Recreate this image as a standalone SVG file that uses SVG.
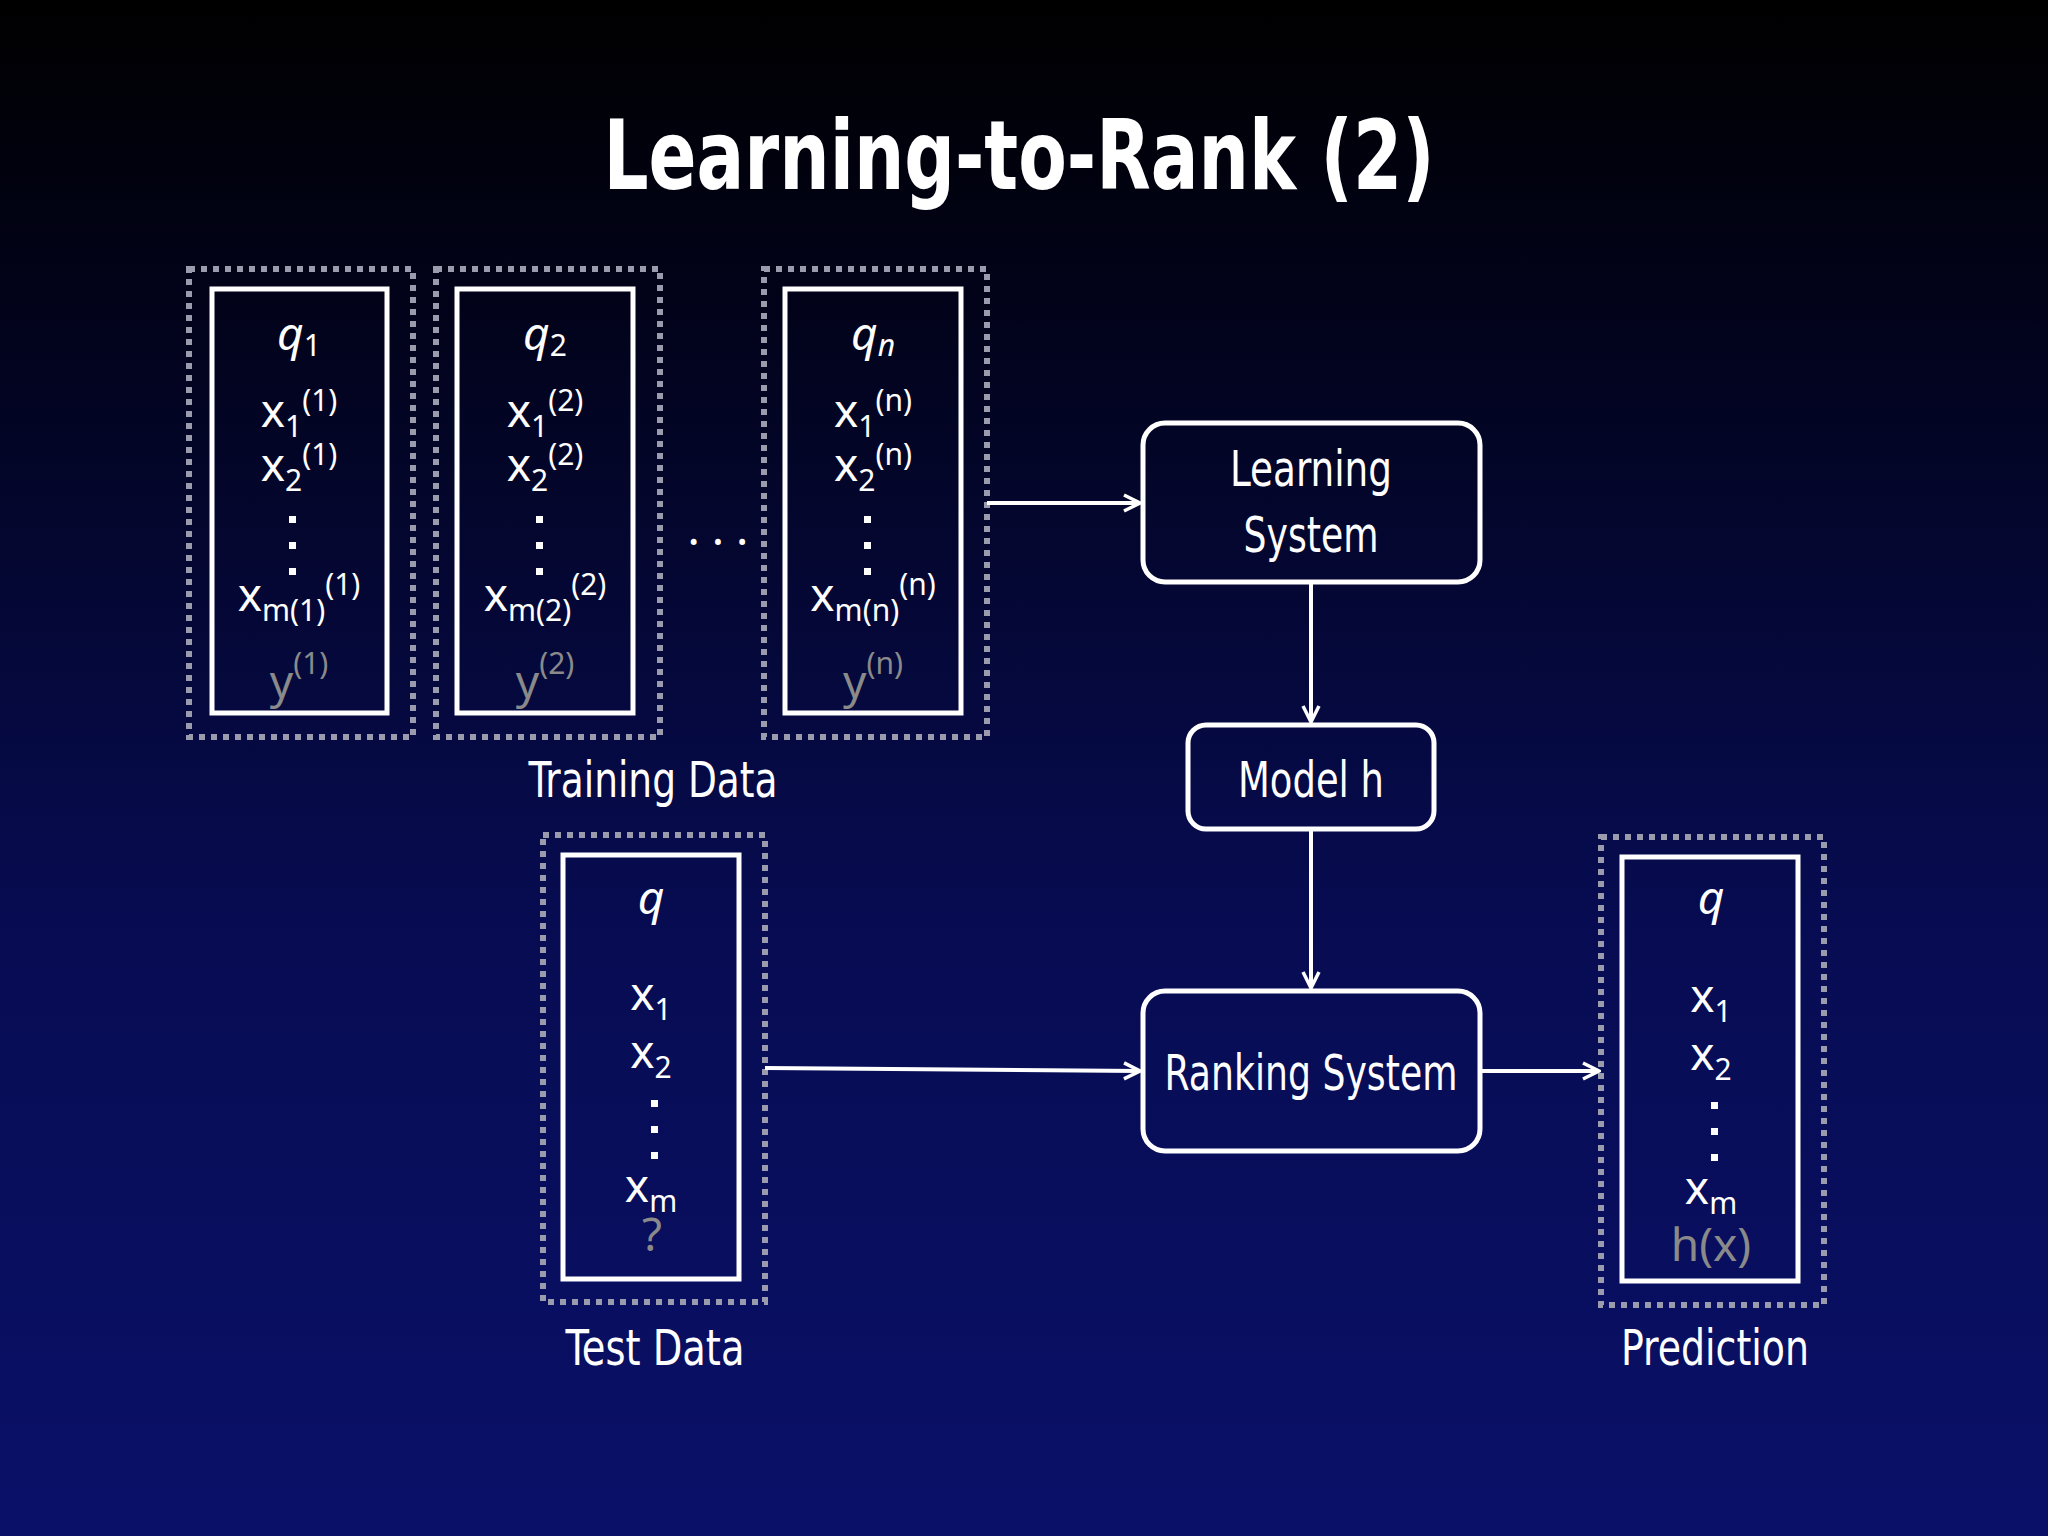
<svg xmlns="http://www.w3.org/2000/svg" width="2048" height="1536" viewBox="0 0 2048 1536">
<defs>
<linearGradient id="bg" x1="0" y1="0" x2="0" y2="1">
<stop offset="0" stop-color="#000000"/><stop offset="0.2" stop-color="#02031a"/><stop offset="0.6" stop-color="#070c52"/><stop offset="1" stop-color="#0a1068"/>
</linearGradient>
<marker id="ar" viewBox="0 0 20 20" refX="18" refY="10" markerWidth="20" markerHeight="20" markerUnits="userSpaceOnUse" orient="auto">
<path d="M2,2 L18,10 L2,18" fill="none" stroke="#fff" stroke-width="3.5"/>
</marker>
<style>
.dot{fill:none;stroke:#9a9cae;stroke-width:6;stroke-dasharray:6 6}
.in{fill:none;stroke:#fff;stroke-width:5}
.rb{fill:none;stroke:#fff;stroke-width:5}
.t{font-family:"Noto Sans","DejaVu Sans",sans-serif;fill:#fff;font-size:46px;text-anchor:middle}
.g{fill:#8a8a8a}
.lb{font-family:"DejaVu Sans Condensed","DejaVu Sans",sans-serif;fill:#fff;font-size:50px;text-anchor:middle}
.c{fill:none;stroke:#fff;stroke-width:4}
.s{font-size:30px}
.d{fill:#fff}
</style>
</defs>
<rect width="2048" height="1536" fill="url(#bg)"/>
<text x="1019" y="189" text-anchor="middle" font-family="DejaVu Sans Condensed,DejaVu Sans,sans-serif" font-weight="bold" font-size="96" fill="#fff" textLength="831" lengthAdjust="spacingAndGlyphs">Learning-to-Rank (2)</text>

<g id="q1">
<rect class="dot" x="189" y="269" width="224" height="468"/>
<rect class="in" x="212" y="289" width="175" height="424"/>
<text class="t" x="299" y="350"><tspan font-style="italic">q</tspan><tspan class="s" dy="6">1</tspan></text>
<text class="t" x="299" y="427">x<tspan class="s" dy="10">1</tspan><tspan class="s" dy="-26">(1)</tspan></text>
<text class="t" x="299" y="481">x<tspan class="s" dy="10">2</tspan><tspan class="s" dy="-26">(1)</tspan></text>
<rect class="d" x="289" y="516" width="7" height="7"/><rect class="d" x="289" y="542" width="7" height="7"/><rect class="d" x="289" y="568" width="7" height="7"/>
<text class="t" x="299" y="611">x<tspan class="s" dy="10">m(1)</tspan><tspan class="s" dy="-26">(1)</tspan></text>
<text class="t g" x="299" y="698">y<tspan class="s" dy="-24">(1)</tspan></text>
</g>
<g id="q2">
<rect class="dot" x="436" y="269" width="224" height="468"/>
<rect class="in" x="457" y="289" width="176" height="424"/>
<text class="t" x="545" y="350"><tspan font-style="italic">q</tspan><tspan class="s" dy="6">2</tspan></text>
<text class="t" x="545" y="427">x<tspan class="s" dy="10">1</tspan><tspan class="s" dy="-26">(2)</tspan></text>
<text class="t" x="545" y="481">x<tspan class="s" dy="10">2</tspan><tspan class="s" dy="-26">(2)</tspan></text>
<rect class="d" x="536" y="516" width="7" height="7"/><rect class="d" x="536" y="542" width="7" height="7"/><rect class="d" x="536" y="568" width="7" height="7"/>
<text class="t" x="545" y="611">x<tspan class="s" dy="10">m(2)</tspan><tspan class="s" dy="-26">(2)</tspan></text>
<text class="t g" x="545" y="698">y<tspan class="s" dy="-24">(2)</tspan></text>
</g>
<text class="t" x="718" y="545" font-size="40">. . .</text>
<g id="qn">
<rect class="dot" x="764" y="269" width="223" height="468"/>
<rect class="in" x="785" y="289" width="176" height="424"/>
<text class="t" x="873" y="350"><tspan font-style="italic">q</tspan><tspan class="s" dy="6" font-style="italic">n</tspan></text>
<text class="t" x="873" y="427">x<tspan class="s" dy="10">1</tspan><tspan class="s" dy="-26">(n)</tspan></text>
<text class="t" x="873" y="481">x<tspan class="s" dy="10">2</tspan><tspan class="s" dy="-26">(n)</tspan></text>
<rect class="d" x="864" y="516" width="7" height="7"/><rect class="d" x="864" y="542" width="7" height="7"/><rect class="d" x="864" y="568" width="7" height="7"/>
<text class="t" x="873" y="611">x<tspan class="s" dy="10">m(n)</tspan><tspan class="s" dy="-26">(n)</tspan></text>
<text class="t g" x="873" y="698">y<tspan class="s" dy="-24">(n)</tspan></text>
</g>
<text class="lb" x="653" y="797" textLength="249" lengthAdjust="spacingAndGlyphs">Training Data</text>

<g id="learning">
<rect class="rb" x="1143" y="423" width="337" height="159" rx="22"/>
<text class="lb" x="1311" y="486" textLength="162" lengthAdjust="spacingAndGlyphs">Learning</text>
<text class="lb" x="1311" y="552" textLength="135" lengthAdjust="spacingAndGlyphs">System</text>
</g>
<g id="model">
<rect class="rb" x="1188" y="725" width="246" height="104" rx="18"/>
<text class="lb" x="1311" y="797" textLength="146" lengthAdjust="spacingAndGlyphs">Model h</text>
</g>
<g id="ranking">
<rect class="rb" x="1143" y="991" width="337" height="160" rx="22"/>
<text class="lb" x="1311" y="1090" textLength="293" lengthAdjust="spacingAndGlyphs">Ranking System</text>
</g>

<g id="test">
<rect class="dot" x="543" y="835" width="222" height="467"/>
<rect class="in" x="563" y="855" width="176" height="424"/>
<text class="t" x="651" y="914" font-style="italic">q</text>
<text class="t" x="651" y="1010">x<tspan class="s" dy="10">1</tspan></text>
<text class="t" x="651" y="1068">x<tspan class="s" dy="10">2</tspan></text>
<rect class="d" x="651" y="1100" width="7" height="7"/><rect class="d" x="651" y="1126" width="7" height="7"/><rect class="d" x="651" y="1152" width="7" height="7"/>
<text class="t" x="651" y="1202">x<tspan class="s" dy="10">m</tspan></text>
<text class="t g" x="652" y="1251" font-size="18">?</text>
</g>
<text class="lb" x="655" y="1365" textLength="179" lengthAdjust="spacingAndGlyphs">Test Data</text>

<g id="prediction">
<rect class="dot" x="1601" y="837" width="223" height="468"/>
<rect class="in" x="1622" y="857" width="176" height="424"/>
<text class="t" x="1711" y="914" font-style="italic">q</text>
<text class="t" x="1711" y="1012">x<tspan class="s" dy="10">1</tspan></text>
<text class="t" x="1711" y="1070">x<tspan class="s" dy="10">2</tspan></text>
<rect class="d" x="1711" y="1102" width="7" height="7"/><rect class="d" x="1711" y="1128" width="7" height="7"/><rect class="d" x="1711" y="1154" width="7" height="7"/>
<text class="t" x="1711" y="1204">x<tspan class="s" dy="10">m</tspan></text>
<text class="t g" x="1711" y="1261" font-size="24">h(x)</text>
</g>
<text class="lb" x="1715" y="1365" textLength="188" lengthAdjust="spacingAndGlyphs">Prediction</text>

<g id="connectors">
<line class="c" x1="987" y1="503" x2="1140" y2="503" marker-end="url(#ar)"/>
<line class="c" x1="1311" y1="582" x2="1311" y2="722" marker-end="url(#ar)"/>
<line class="c" x1="1311" y1="829" x2="1311" y2="988" marker-end="url(#ar)"/>
<line class="c" x1="765" y1="1068" x2="1140" y2="1071" marker-end="url(#ar)"/>
<line class="c" x1="1480" y1="1071" x2="1599" y2="1071" marker-end="url(#ar)"/>
</g>
</svg>
